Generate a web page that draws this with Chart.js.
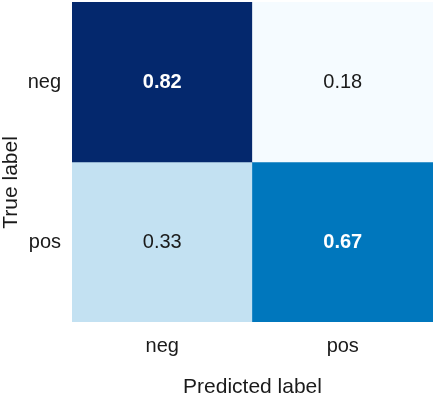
<!DOCTYPE html>
<html>
<head>
<meta charset="utf-8">
<script src="https://cdn.jsdelivr.net/npm/chart.js@4/dist/chart.umd.min.js"></script>
<style>
  html, body { margin: 0; padding: 0; background: #ffffff; }
  #box { width: 436px; height: 396px; }
</style>
</head>
<body>
<div id="box"><canvas id="cmChart"></canvas></div>
<script>
// categorias (linhas = rótulo verdadeiro, colunas = rótulo previsto)
const classes = ['neg', 'pos'];
// valores normalizados da matriz de confusão, uma linha por classe verdadeira
const rowNeg = [0.82, 0.18];
const rowPos = [0.33, 0.67];
const matrix = [rowNeg, rowPos];

// cores das células (paleta "Blues")
const cellColors = [
    ['#04286d', '#f5fbff'],
    ['#c3e1f2', '#0077bd'],
];

const fontName = '"Liberation Sans", Arial, sans-serif';

// cada linha vira um dataset de barras flutuantes ocupando [i, i+1] no eixo y
const datasets = matrix.map((row, i) => ({
    label: classes[i],
    data: row.map(() => [i, i + 1]),
    values: row,
    backgroundColor: cellColors[i],
    borderWidth: 0,
    barPercentage: 1,
    categoryPercentage: 1,
    grouped: false,
}));

// escreve o valor no centro de cada célula
const cellText = {
    id: 'cellText',
    afterDatasetsDraw(chart) {
        const ctx = chart.ctx;
        ctx.save();
        ctx.textAlign = 'center';
        ctx.textBaseline = 'middle';
        chart.data.datasets.forEach((ds, i) => {
            chart.getDatasetMeta(i).data.forEach((bar, j) => {
                const v = ds.values[j];
                const dark = v >= 0.5;
                ctx.fillStyle = dark ? '#ffffff' : '#1a1a1a';
                ctx.font = (dark ? 'bold ' : '') + '20px ' + fontName;
                ctx.fillText(v.toFixed(2), bar.x, (bar.y + bar.base) / 2);
            });
        });
        ctx.restore();
    },
};

new Chart(document.getElementById('cmChart'), {
    type: 'bar',
    data: { labels: classes, datasets: datasets },
    options: {
        responsive: true,
        maintainAspectRatio: false,
        animation: false,
        layout: { padding: { top: 2, right: 3, bottom: 0, left: 0 } },
        plugins: {
            legend: { display: false },
            tooltip: { enabled: false },
        },
        scales: {
            x: {
                grid: { display: false, drawTicks: false },
                border: { display: false },
                ticks: { color: '#1a1a1a', padding: 12, font: { size: 20, family: fontName } },
                title: {
                    display: true,
                    text: 'Predicted label',
                    color: '#1a1a1a',
                    font: { size: 21, family: fontName },
                    padding: { top: 0, bottom: -4 },
                },
                afterFit(scale) {
                    scale.height = 74;
                    scale.paddingLeft = 0;
                    scale.paddingRight = 0;
                },
            },
            y: {
                min: 0,
                max: 2,
                reverse: true,
                grid: { display: false, drawTicks: false },
                border: { display: false },
                afterBuildTicks(scale) {
                    scale.ticks = classes.map((c, i) => ({ value: i + 0.5 }));
                },
                ticks: {
                    color: '#1a1a1a',
                    padding: 11,
                    font: { size: 20, family: fontName },
                    callback: (value) => classes[Math.floor(value)],
                },
                title: {
                    display: true,
                    // espaços no fim empurram o título um pouco para baixo, como no original
                    text: 'True label       ',
                    color: '#1a1a1a',
                    font: { size: 21, family: fontName },
                    padding: { top: -1, bottom: 0 },
                },
                afterFit(scale) {
                    scale.width = 72;
                    scale.paddingTop = 0;
                    scale.paddingBottom = 0;
                },
            },
        },
    },
    plugins: [cellText],
});
</script>
</body>
</html>
